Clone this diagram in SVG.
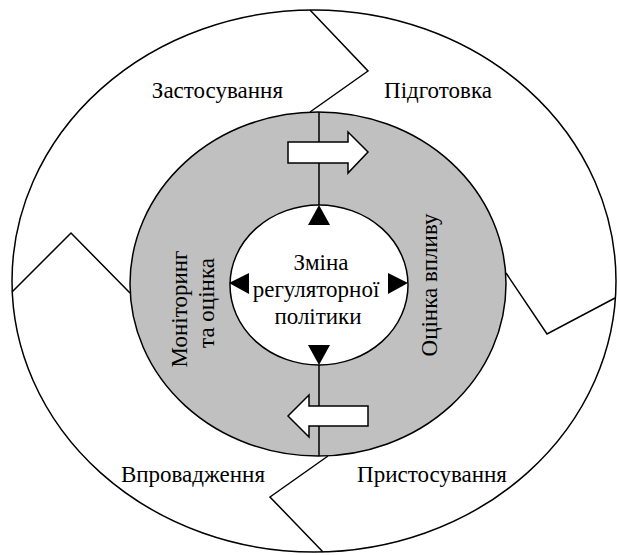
<svg xmlns="http://www.w3.org/2000/svg" width="617" height="555" viewBox="0 0 617 555">
<style>
.ln{fill:none;stroke:#000;stroke-width:1.5}
.t{font-family:"Liberation Serif","Times New Roman",serif;font-size:23px;fill:#000}
.tri{fill:#000}
.blk{fill:#fff;stroke:#000;stroke-width:1.5}
</style>
<rect width="617" height="555" fill="#fff"/>
<g id="outer-ring">
<ellipse cx="314" cy="281" rx="302" ry="271" fill="#fff" stroke="#000" stroke-width="1.5"/>
</g>
<g id="dividers">
<polyline class="ln" points="310,10 368,71 310,112"/>
<polyline class="ln" points="12,292 71,233 130,293"/>
<polyline class="ln" points="506,273 547,334 615,298"/>
<polyline class="ln" points="328,456 270,497 323,552"/>
</g>
<g id="middle-ring">
<ellipse cx="318" cy="284" rx="188" ry="172" fill="#c0c0c0" stroke="#000" stroke-width="1.5"/>
</g>
<g id="center">
<ellipse cx="319" cy="285" rx="89" ry="80" fill="#fff" stroke="#000" stroke-width="1.5"/>
<text class="t" text-anchor="middle"><tspan x="321" y="270">Зміна</tspan><tspan x="316" y="297">регуляторної</tspan><tspan x="318" y="324">політики</tspan></text>
</g>
<g id="connectors">
<line class="ln" x1="319" y1="112" x2="319" y2="205"/>
<line class="ln" x1="319" y1="365" x2="319" y2="456"/>
<polygon class="tri" points="319,205 308,225 330,225"/>
<polygon class="tri" points="308,345 330,345 319,365"/>
<polygon class="tri" points="229,283 249,273 249,294"/>
<polygon class="tri" points="408,283 388,273 388,294"/>
<polygon class="blk" points="288,142 348,142 348,132 368,152 348,173 348,163 288,163"/>
<polygon class="blk" points="368,406 309,406 309,395 288,416 309,437 309,426 368,426"/>
</g>
<g id="label-zastosuvannia"><text class="t" x="283" y="98" text-anchor="end">Застосування</text></g>
<g id="label-pidgotovka"><text class="t" x="438" y="98" text-anchor="middle">Підготовка</text></g>
<g id="label-vprovadzhennia"><text class="t" x="265" y="482" text-anchor="end">Впровадження</text></g>
<g id="label-prystosuvannia"><text class="t" x="432" y="482" text-anchor="middle">Пристосування</text></g>
<g id="label-monitoring"><text class="t" text-anchor="middle" transform="translate(187,309) rotate(-90)">Моніторинг</text><text class="t" text-anchor="middle" transform="translate(214,303) rotate(-90)">та оцінка</text></g>
<g id="label-otsinka"><text class="t" text-anchor="middle" transform="translate(437,285) rotate(-90)">Оцінка впливу</text></g>
</svg>
